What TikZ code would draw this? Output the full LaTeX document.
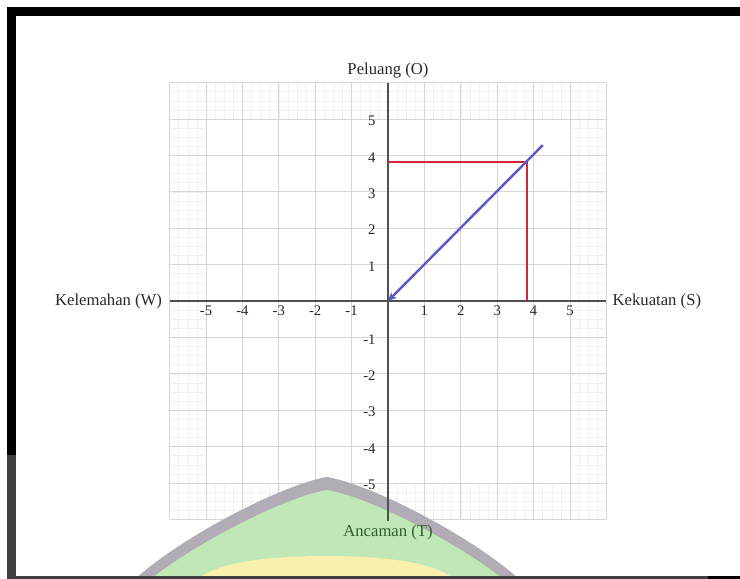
\documentclass[tikz,border=0pt]{standalone}
\usepackage{fontspec}
\setmainfont{Liberation Serif}
\usetikzlibrary{arrows.meta}
\definecolor{merah}{RGB}{212,36,58}
\definecolor{biru}{RGB}{88,88,200}
\definecolor{garis}{RGB}{214,214,214}
\definecolor{garism}{RGB}{240,240,240}
\definecolor{sumbu}{RGB}{80,80,80}
\definecolor{teks}{RGB}{40,40,40}
\definecolor{hijau}{RGB}{192,232,182}
\definecolor{abu}{RGB}{178,172,180}
\definecolor{kuning}{RGB}{248,240,172}
\definecolor{bingkaib}{RGB}{64,64,64}
\definecolor{tekshijau}{RGB}{45,95,45}

\begin{document}
\begin{tikzpicture}[x=27.3pt,y=27.3pt,
  lbl/.style={font=\fontsize{12.5}{14}\selectfont,text=teks,inner sep=1.5pt},
  tick/.style={font=\fontsize{11}{12}\selectfont,text=teks,inner sep=1pt}]
\useasboundingbox (-10.659,-7.637) rectangle (9.670,8.269);
\clip (-10.659,-7.637) rectangle (9.670,8.269);

\coordinate (pusat) at (0,0);
\coordinate (W) at (-6,0);
\coordinate (S) at (6,0);
\coordinate (O) at (0,6);
\coordinate (T) at (0,-6.05);
\coordinate (R) at (3.82,3.82);
\coordinate (Ry) at (0,3.82);
\coordinate (Rx) at (3.82,0);
\coordinate (P) at (4.25,4.28);

\begin{scope}[garism,line width=0.4pt,step={(0.25,0.25)}]
\draw (-6,5) grid (6,6);
\draw (-6,-6) grid (6,-5);
\draw (-6,-6) grid (-5,6);
\draw (5,-6) grid (6,6);
\end{scope}
\draw[garis,line width=0.5pt,step={(1,1)}] (-6,-6) grid (6,6);

\begin{scope}[shift={(-10.659,8.269)},x=0.75pt,y=-0.75pt]
\fill[abu] (110,600) -- (135,579) .. controls (184,535) and (284,484) .. (327,477)
  .. controls (370,484) and (470,535) .. (519,579) -- (540,600) -- cycle;
\fill[hijau] (120,610) -- (135,592) .. controls (184,548) and (284,497) .. (327,490)
  .. controls (370,497) and (470,548) .. (519,592) -- (530,610) -- cycle;
\fill[kuning] (198,600) -- (198,579) .. controls (220,560) and (280,556) .. (326,556)
  .. controls (372,556) and (432,560) .. (454,579) -- (454,600) -- cycle;
\end{scope}

\draw[sumbu,line width=0.9pt] (W) -- (S);
\draw[sumbu,line width=0.9pt] (T) -- (O);

\foreach \i in {-5,...,-1,1,2,3,4,5}
  \node[tick] (tx\i) at (\i,-0.27) {\i};
\foreach \j in {-5,...,-1,1,2,3,4,5}
  \node[tick,anchor=east] (ty\j) at (-0.3,\j-0.05) {\j};

\node[lbl,anchor=east,xshift=-4pt] (kelemahan) at (W) {Kelemahan (W)};
\node[lbl,anchor=west,xshift=3pt] (kekuatan) at (S) {Kekuatan (S)};
\node[lbl,anchor=south,yshift=2pt] (peluang) at (O) {Peluang (O)};
\node[lbl,anchor=north,yshift=-1pt,text=tekshijau] (ancaman) at (T) {Ancaman (T)};

\draw[merah,line width=1.9pt] (Ry) -- (R) -- (Rx);
\draw[biru,line width=1.8pt,-{Stealth[length=6.5pt,width=6pt]}] (P) -- (pusat);

\begin{scope}[shift={(-10.659,8.269)},x=0.75pt,y=-0.75pt]
\fill[black] (7,7) rectangle (740,16);
\fill[black] (7,7) rectangle (16,455);
\fill[bingkaib] (7,455) rectangle (16,579);
\fill[bingkaib] (7,576) rectangle (708,579);
\fill[black] (708,576) rectangle (740,579);
\end{scope}
\end{tikzpicture}
\end{document}
